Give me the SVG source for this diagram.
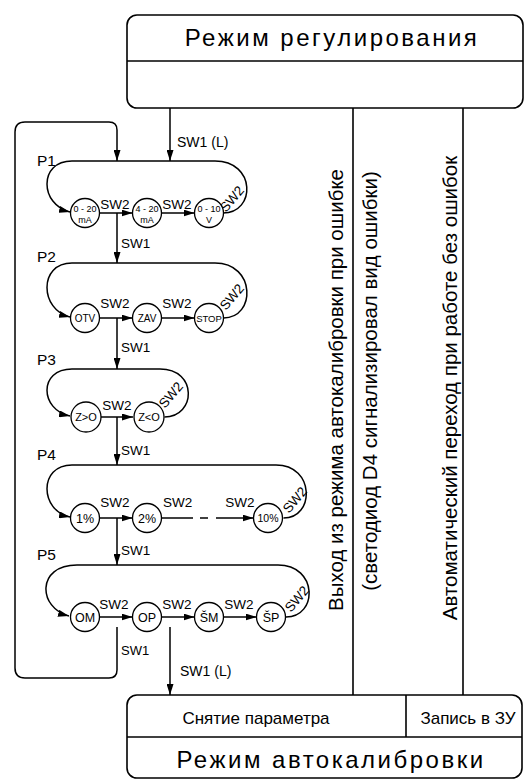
<svg xmlns="http://www.w3.org/2000/svg" width="524" height="780" viewBox="0 0 524 780">
<style>
.ln{fill:none;stroke:#000;stroke-width:1.5}
.bx{fill:none;stroke:#000;stroke-width:1.6}
.nd circle{fill:#fff;stroke:#000;stroke-width:1.3}
text{font-family:"Liberation Sans",Arial,sans-serif;fill:#000}
.ct{text-anchor:middle}
.sw{font-size:13.5px}
.pl{font-size:15.5px}
.vt{font-size:20.5px;text-anchor:middle}
.ttl{font-size:24px;letter-spacing:2.5px;text-anchor:middle}
.sm{font-size:9px;text-anchor:middle}
</style>
<defs>
<marker id="ah" viewBox="0 0 11 7" refX="11" refY="3.5" markerWidth="11" markerHeight="7" markerUnits="userSpaceOnUse" orient="auto">
<path d="M0,0 L11,3.5 L0,7 z" fill="#000"/>
</marker>
</defs>

<g id="top-box">
<rect class="bx" x="127" y="15" width="396" height="93" rx="10"/>
<line class="bx" x1="127" y1="61" x2="523" y2="61"/>
<text class="ttl" x="332" y="46">Режим регулирования</text>
</g>

<g id="bottom-box">
<rect class="bx" x="127" y="695" width="395" height="83" rx="10"/>
<line class="bx" x1="127" y1="737" x2="522" y2="737"/>
<line class="bx" x1="406" y1="695" x2="406" y2="737"/>
<text class="ct" x="256" y="724" font-size="17">Снятие параметра</text>
<text class="ct" x="468" y="724" font-size="17">Запись в ЗУ</text>
<text class="ttl" x="331" y="768">Режим автокалибровки</text>
</g>

<g id="labels-right">
<text class="vt" transform="translate(343,390) rotate(-90)">Выход из режима автокалибровки при ошибке</text>
<text class="vt" transform="translate(377,381) rotate(-90)">(светодиод D4 сигнализировал вид ошибки)</text>
<text class="vt" transform="translate(457,388) rotate(-90)">Автоматический переход при работе без ошибок</text>
</g>

<g id="connectors">
<line class="bx" x1="353" y1="108" x2="353" y2="695"/>
<line class="bx" x1="463" y1="108" x2="463" y2="695"/>
<line class="ln" x1="170" y1="108" x2="170" y2="161" marker-end="url(#ah)"/>
<text x="177" y="147" font-size="14">SW1 (L)</text>
<path class="ln" d="M117 627 V670 Q117 678 109 678 H25 Q15 678 15 668 V132 Q15 122 25 122 H109 Q117 122 117 130 V161" marker-end="url(#ah)"/>
<text x="121" y="655" font-size="13">SW1</text>
<line class="ln" x1="170" y1="627" x2="170" y2="695" marker-end="url(#ah)"/>
<text x="180" y="676" font-size="14">SW1 (L)</text>

<!-- P1 -->
<path class="ln" d="M223 213 C256 213 256 161 215 161 H72 C38 161 40 205 70 212" marker-end="url(#ah)"/>
<line class="ln" x1="99.5" y1="213" x2="132.5" y2="213" marker-end="url(#ah)"/>
<line class="ln" x1="161.5" y1="213" x2="194.5" y2="213" marker-end="url(#ah)"/>
<text class="sw ct" x="115" y="209">SW2</text>
<text class="sw ct" x="177" y="209">SW2</text>
<text class="sw ct" transform="translate(232,199) rotate(-50)" dy="4.5">SW2</text>
<line class="ln" x1="117" y1="213" x2="117" y2="263" marker-end="url(#ah)"/>
<text class="sw" x="121" y="248">SW1</text>

<!-- P2 -->
<path class="ln" d="M223.5 318 C256 318 256 263 215 263 H72 C38 263 40 310 70 317" marker-end="url(#ah)"/>
<line class="ln" x1="99.5" y1="318" x2="132.5" y2="318" marker-end="url(#ah)"/>
<line class="ln" x1="161.5" y1="318" x2="194.5" y2="318" marker-end="url(#ah)"/>
<text class="sw ct" x="115" y="308">SW2</text>
<text class="sw ct" x="177" y="308">SW2</text>
<text class="sw ct" transform="translate(232,297) rotate(-50)" dy="4.5">SW2</text>
<line class="ln" x1="117" y1="318" x2="117" y2="369" marker-end="url(#ah)"/>
<text class="sw" x="121" y="352">SW1</text>

<!-- P3 -->
<path class="ln" d="M164.5 417 C196 417 198 369 160 369 H72 C38 369 40 410 70 416" marker-end="url(#ah)"/>
<line class="ln" x1="101" y1="417" x2="133" y2="417" marker-end="url(#ah)"/>
<text class="sw ct" x="117" y="410">SW2</text>
<text class="sw ct" transform="translate(171,395) rotate(-50)" dy="4.5">SW2</text>
<line class="ln" x1="117" y1="417" x2="117" y2="465" marker-end="url(#ah)"/>
<text class="sw" x="121" y="455">SW1</text>

<!-- P4 -->
<path class="ln" d="M283.5 518 C315 518 315 465 276 465 H72 C38 465 40 511 70 517" marker-end="url(#ah)"/>
<line class="ln" x1="99.5" y1="518" x2="132.5" y2="518" marker-end="url(#ah)"/>
<line class="ln" x1="161.5" y1="518" x2="193" y2="518"/>
<line class="ln" x1="200" y1="518" x2="208" y2="518"/>
<line class="ln" x1="216" y1="518" x2="253.5" y2="518" marker-end="url(#ah)"/>
<text class="sw ct" x="115" y="507">SW2</text>
<text class="sw" x="163" y="507">SW2</text>
<text class="sw ct" x="240" y="507">SW2</text>
<text class="sw ct" transform="translate(295,500) rotate(-50)" dy="4.5">SW2</text>
<line class="ln" x1="117" y1="518" x2="117" y2="565" marker-end="url(#ah)"/>
<text class="sw" x="121" y="555">SW1</text>

<!-- P5 -->
<path class="ln" d="M286 617 C318 617 318 565 278 565 H77 C36 565 38 608 69 616" marker-end="url(#ah)"/>
<line class="ln" x1="99.5" y1="617" x2="132.5" y2="617" marker-end="url(#ah)"/>
<line class="ln" x1="161.5" y1="617" x2="194.5" y2="617" marker-end="url(#ah)"/>
<line class="ln" x1="223.5" y1="617" x2="256.5" y2="617" marker-end="url(#ah)"/>
<text class="sw ct" x="114" y="609">SW2</text>
<text class="sw ct" x="177" y="609">SW2</text>
<text class="sw ct" x="239" y="609">SW2</text>
<text class="sw ct" transform="translate(297,599) rotate(-50)" dy="4.5">SW2</text>
</g>

<g id="P1">
<text class="pl" x="37" y="166">P1</text>
<g class="nd" id="n-0-20mA"><circle cx="85" cy="213" r="14.5"/><text class="sm" x="85" y="212">0 - 20</text><text class="sm" x="85" y="223">mA</text></g>
<g class="nd" id="n-4-20mA"><circle cx="147" cy="213" r="14.5"/><text class="sm" x="147" y="212">4 - 20</text><text class="sm" x="147" y="223">mA</text></g>
<g class="nd" id="n-0-10V"><circle cx="209" cy="213" r="14.5"/><text class="sm" x="209" y="212">0 - 10</text><text class="sm" x="209" y="223">V</text></g>
</g>

<g id="P2">
<text class="pl" x="37" y="262">P2</text>
<g class="nd" id="n-OTV"><circle cx="85" cy="318" r="14.5"/><text class="ct" x="85" y="321.5" font-size="10">OTV</text></g>
<g class="nd" id="n-ZAV"><circle cx="147" cy="318" r="14.5"/><text class="ct" x="147" y="321.5" font-size="10">ZAV</text></g>
<g class="nd" id="n-STOP"><circle cx="209" cy="318" r="14.5"/><text class="ct" x="209" y="321.5" font-size="9.5">STOP</text></g>
</g>

<g id="P3">
<text class="pl" x="37" y="365">P3</text>
<g class="nd" id="n-ZgtO"><circle cx="86" cy="417" r="15"/><text class="ct" x="86" y="421" font-size="11">Z&gt;O</text></g>
<g class="nd" id="n-ZltO"><circle cx="149" cy="417" r="15"/><text class="ct" x="149" y="421" font-size="11">Z&lt;O</text></g>
</g>

<g id="P4">
<text class="pl" x="37" y="460">P4</text>
<g class="nd" id="n-1pc"><circle cx="85" cy="518" r="14.5"/><text class="ct" x="85" y="522.5" font-size="12.5">1%</text></g>
<g class="nd" id="n-2pc"><circle cx="147" cy="518" r="14.5"/><text class="ct" x="147" y="522.5" font-size="12.5">2%</text></g>
<g class="nd" id="n-10pc"><circle cx="268" cy="518" r="14.5"/><text class="ct" x="268" y="521.5" font-size="10.5">10%</text></g>
</g>

<g id="P5">
<text class="pl" x="37" y="560">P5</text>
<g class="nd" id="n-OM"><circle cx="85" cy="617" r="14.5"/><text class="ct" x="85" y="621.5" font-size="12.5">OM</text></g>
<g class="nd" id="n-OP"><circle cx="147" cy="617" r="14.5"/><text class="ct" x="147" y="621.5" font-size="12.5">OP</text></g>
<g class="nd" id="n-SM"><circle cx="209" cy="617" r="14.5"/><text class="ct" x="209" y="621.5" font-size="12.5">ŠM</text></g>
<g class="nd" id="n-SP"><circle cx="271" cy="617" r="14.5"/><text class="ct" x="271" y="621.5" font-size="12.5">ŠP</text></g>
</g>
</svg>
